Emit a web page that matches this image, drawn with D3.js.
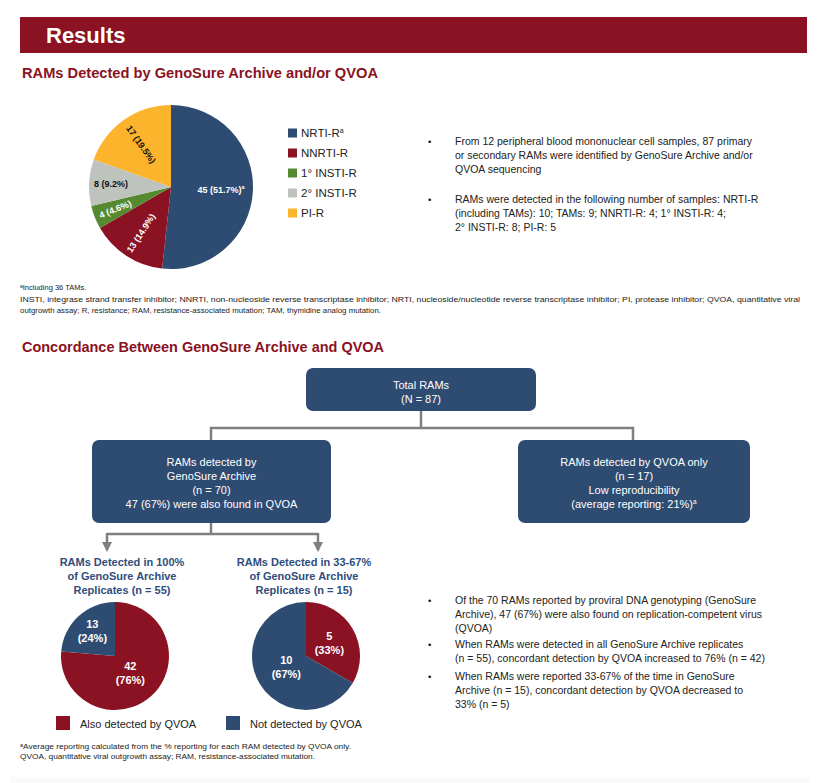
<!DOCTYPE html>
<html><head><meta charset="utf-8">
<script src="https://cdn.jsdelivr.net/npm/d3@7/dist/d3.min.js"></script>
<style>
body{margin:0;background:#fff}
svg{display:block}
text{font-family:"Liberation Sans",Arial,Helvetica,sans-serif}
</style>
</head><body>
<svg id="c" width="824" height="783"></svg>
<script>
// ---------------- DATA ----------------
const ramCategories = ["NRTI-R", "NNRTI-R", "1° INSTI-R", "2° INSTI-R", "PI-R"];
const ramCategorySup = ["a", "", "", "", ""];
const ramCounts = [45, 13, 4, 8, 17];
const ramPercents = ["51.7%", "14.9%", "4.6%", "9.2%", "19.5%"];
const ramLabelSup = ["a", "", "", "", ""];

const qvoaCategories = ["Also detected by QVOA", "Not detected by QVOA"];
const fullReplicateCounts = [42, 13];
const fullReplicatePercents = ["76%", "24%"];
const partialReplicateCounts = [5, 10];
const partialReplicatePercents = ["33%", "67%"];

const fullTitle = ["RAMs Detected in 100%", "of GenoSure Archive", "Replicates (n = 55)"];
const partialTitle = ["RAMs Detected in 33-67%", "of GenoSure Archive", "Replicates (n = 15)"];

const totalBox = ["Total RAMs", "(N = 87)"];
const archiveBox = ["RAMs detected by", "GenoSure Archive", "(n = 70)", "47 (67%) were also found in QVOA"];
const qvoaOnlyBox = ["RAMs detected by QVOA only", "(n = 17)", "Low reproducibility", "(average reporting: 21%)"];

const topBullets = [
  ["From 12 peripheral blood mononuclear cell samples, 87 primary",
   "or secondary RAMs were identified by GenoSure Archive and/or",
   "QVOA sequencing"],
  ["RAMs were detected in the following number of samples: NRTI-R",
   "(including TAMs): 10; TAMs: 9; NNRTI-R: 4; 1° INSTI-R: 4;",
   "2° INSTI-R: 8; PI-R: 5"]
];
const bottomBullets = [
  ["Of the 70 RAMs reported by proviral DNA genotyping (GenoSure",
   "Archive), 47 (67%) were also found on replication-competent virus",
   "(QVOA)"],
  ["When RAMs were detected in all GenoSure Archive replicates",
   "(n = 55), concordant detection by QVOA increased to 76% (n = 42)"],
  ["When RAMs were reported 33-67% of the time in GenoSure",
   "Archive (n = 15), concordant detection by QVOA decreased to",
   "33% (n = 5)"]
];
const topFootnotes = [
  "Including 36 TAMs.",
  "INSTI, integrase strand transfer inhibitor; NNRTI, non-nucleoside reverse transcriptase inhibitor; NRTI, nucleoside/nucleotide reverse transcriptase inhibitor; PI, protease inhibitor; QVOA, quantitative viral",
  "outgrowth assay; R, resistance; RAM, resistance-associated mutation; TAM, thymidine analog mutation."
];
const bottomFootnotes = [
  "Average reporting calculated from the % reporting for each RAM detected by QVOA only.",
  "QVOA, quantitative viral outgrowth assay; RAM, resistance-associated mutation."
];

// ---------------- STYLE ----------------
const RED = "#8A1222", BLUE = "#2E4B72", GREYLINE = "#7F7F7F", TITLEBLUE = "#2F4D7C";
const ramColors = ["#2E4B72", "#8A1222", "#568A31", "#BEC4BD", "#FBB42C"];
const ramLabelFill = ["#fff", "#fff", "#fff", "#111", "#111"];
const ramLabelRotate = [false, true, true, false, true];
const ramLabelRadius = [50, 55, 60, 60, 52];
const qvoaColors = [RED, BLUE];

const svg = d3.select("#c");
svg.append("rect").attr("width", 824).attr("height", 783).attr("fill", "#fff");

// header
svg.append("rect").attr("x", 20).attr("y", 17).attr("width", 787).attr("height", 36).attr("fill", RED);
svg.append("text").attr("x", 46).attr("y", 43).attr("fill", "#fff")
  .attr("font-size", 22).attr("font-weight", "bold").text("Results");

function sectionTitle(t, y, w) {
  svg.append("text").attr("x", 22).attr("y", y).attr("fill", RED)
    .attr("font-size", 14).attr("font-weight", "bold")
    .attr("textLength", w).attr("lengthAdjust", "spacingAndGlyphs").text(t);
}
sectionTitle("RAMs Detected by GenoSure Archive and/or QVOA", 78, 356);
sectionTitle("Concordance Between GenoSure Archive and QVOA", 352, 362);

// ---------------- TOP PIE ----------------
const topR = 82;
const topG = svg.append("g").attr("transform", "translate(171,187)");
const pie = d3.pie().sort(null).value(d => d);
const topArcs = pie(ramCounts);
const arcTop = d3.arc().innerRadius(0).outerRadius(topR);
topG.selectAll("path.s").data(topArcs).join("path")
  .attr("d", arcTop).attr("fill", (d, i) => ramColors[i]);
topArcs.forEach((d, i) => {
  const a = (d.startAngle + d.endAngle) / 2, r = ramLabelRadius[i];
  const x = r * Math.sin(a), y = -r * Math.cos(a);
  const rot = ramLabelRotate[i] ? a * 180 / Math.PI - 270 : 0;
  const t = topG.append("text")
    .attr("transform", `translate(${x},${y}) rotate(${rot})`)
    .attr("text-anchor", "middle").attr("dy", "0.35em")
    .attr("font-size", 9).attr("font-weight", "bold").attr("fill", ramLabelFill[i]);
  t.append("tspan").text(`${ramCounts[i]} (${ramPercents[i]})`);
  if (ramLabelSup[i]) t.append("tspan").attr("font-size", 5.5).attr("dy", -3.5).text(ramLabelSup[i]);
});

// legend
const lg = svg.append("g");
ramCategories.forEach((c, i) => {
  const y = 133 + i * 20;
  lg.append("rect").attr("x", 288).attr("y", y - 4.5).attr("width", 9).attr("height", 9).attr("fill", ramColors[i]);
  const t = lg.append("text").attr("x", 301).attr("y", y + 4).attr("font-size", 11.5).attr("fill", "#222");
  t.append("tspan").text(c);
  if (ramCategorySup[i]) t.append("tspan").attr("font-size", 7).attr("dy", -4.5).text(ramCategorySup[i]);
});

// bullets
function bullets(groups, starts) {
  groups.forEach((lines, gi) => {
    svg.append("text").attr("x", 428).attr("y", starts[gi]).attr("font-size", 9.5).attr("fill", "#111").text("•");
    lines.forEach((l, li) => {
      svg.append("text").attr("x", 455).attr("y", starts[gi] + li * 14).attr("font-size", 10.5)
        .attr("fill", "#222").text(l);
    });
  });
}
bullets(topBullets, [145, 203]);
bullets(bottomBullets, [604, 648, 680]);

// footnotes
function footLine(text, x, y, sup, w) {
  const t = svg.append("text").attr("x", x).attr("y", y).attr("font-size", 7.5).attr("fill", "#222");
  if (sup) {
    t.append("tspan").attr("font-size", 5).attr("dy", -2.5).text(sup);
    t.append("tspan").attr("dy", 2.5).text(text);
  } else t.text(text);
  if (w) t.attr("textLength", w).attr("lengthAdjust", "spacingAndGlyphs");
}
footLine(topFootnotes[0], 20, 290, "a", 0);
footLine(topFootnotes[1], 20, 302, "", 780);
footLine(topFootnotes[2], 20, 313, "", 361);
footLine(bottomFootnotes[0], 20, 749, "a", 331);
footLine(bottomFootnotes[1], 20, 759, "", 295);

// ---------------- FLOWCHART ----------------
const defs = svg.append("defs");
defs.append("marker").attr("id", "arr").attr("viewBox", "0 0 10 10").attr("refX", 8).attr("refY", 5)
  .attr("markerWidth", 4).attr("markerHeight", 4).attr("orient", "auto")
  .append("path").attr("d", "M0,0L10,5L0,10z").attr("fill", GREYLINE);

const conn = svg.append("g").attr("stroke", GREYLINE).attr("stroke-width", 2.5).attr("fill", "none");
conn.append("path").attr("d", "M421,411V428M211,441V428H633V441");
conn.append("path").attr("d", "M211,523V534H107M211,534H318");
conn.append("path").attr("d", "M107,533V550").attr("marker-end", "url(#arr)");
conn.append("path").attr("d", "M318,533V550").attr("marker-end", "url(#arr)");

function box(x, y, w, h, lines, base, supLast) {
  svg.append("rect").attr("x", x).attr("y", y).attr("width", w).attr("height", h)
    .attr("rx", 7).attr("fill", BLUE);
  lines.forEach((l, i) => {
    const t = svg.append("text").attr("x", x + w / 2).attr("y", base + i * 14).attr("text-anchor", "middle")
      .attr("font-size", 11).attr("fill", "#fff");
    t.append("tspan").text(l);
    if (supLast && i === lines.length - 1) t.append("tspan").attr("font-size", 6.5).attr("dy", -4).text(supLast);
  });
}
box(306, 368, 230, 43, totalBox, 389, "");
box(92, 440, 239, 83, archiveBox, 466, "");
box(518, 440, 232, 83, qvoaOnlyBox, 466, "a");

// ---------------- BOTTOM PIES ----------------
function smallPie(cx, cy, counts, pcts, title, titleX, radFactors) {
  const R = 54;
  title.forEach((l, i) => {
    svg.append("text").attr("x", titleX).attr("y", 566 + i * 14).attr("text-anchor", "middle")
      .attr("font-size", 11).attr("font-weight", "bold").attr("fill", TITLEBLUE).text(l);
  });
  const g = svg.append("g").attr("transform", `translate(${cx},${cy})`);
  const arcs = pie(counts);
  g.selectAll("path").data(arcs).join("path")
    .attr("d", d3.arc().innerRadius(0).outerRadius(R)).attr("fill", (d, i) => qvoaColors[i]);
  arcs.forEach((d, i) => {
    const a = (d.startAngle + d.endAngle) / 2, r = R * radFactors[i];
    const x = r * Math.sin(a), y = -r * Math.cos(a);
    const t = g.append("text").attr("x", x).attr("y", y).attr("text-anchor", "middle")
      .attr("font-size", 11).attr("font-weight", "bold").attr("fill", "#fff");
    t.append("tspan").attr("x", x).attr("dy", -3).text(counts[i]);
    t.append("tspan").attr("x", x).attr("dy", 14).text(`(${pcts[i]})`);
  });
}
smallPie(115, 656, fullReplicateCounts, fullReplicatePercents, fullTitle, 122, [0.42, 0.62]);
smallPie(306, 656, partialReplicateCounts, partialReplicatePercents, partialTitle, 304, [0.5, 0.42]);

// bottom legend
qvoaCategories.forEach((c, i) => {
  const x = [56, 226][i];
  svg.append("rect").attr("x", x).attr("y", 716).attr("width", 14).attr("height", 14).attr("fill", qvoaColors[i]);
  svg.append("text").attr("x", x + 24).attr("y", 728).attr("font-size", 11).attr("fill", "#222").text(c);
});

svg.append("rect").attr("x", 10).attr("y", 777).attr("width", 800).attr("height", 6).attr("fill", "#fafafa");
</script>
</body></html>
